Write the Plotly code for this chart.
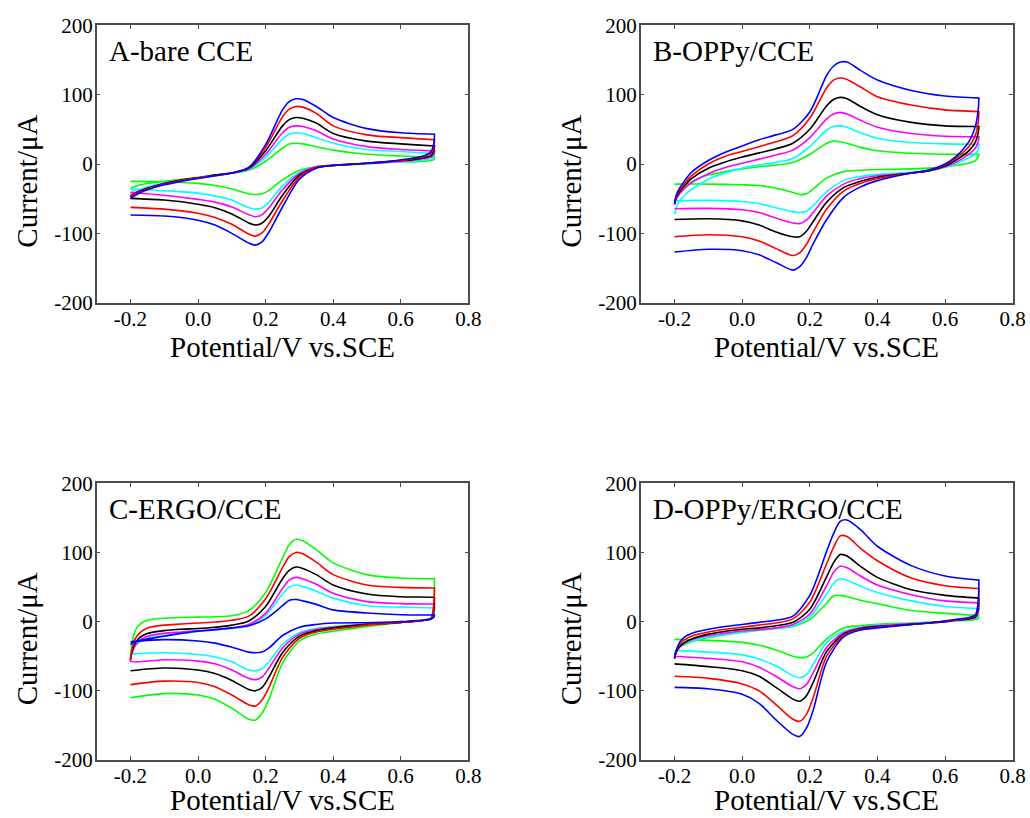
import plotly.graph_objects as go

# Potential grids (V vs SCE) for the anodic (forward) and cathodic (reverse) sweeps
E_FWD = [-0.2, -0.195, -0.185, -0.17, -0.15, -0.1, -0.05, 0.0, 0.05, 0.1, 0.15, 0.2,
         0.25, 0.27, 0.29, 0.31, 0.35, 0.4, 0.5, 0.6, 0.7]
E_REV = [0.7, 0.698, 0.69, 0.67, 0.63, 0.6, 0.55, 0.5, 0.4, 0.35, 0.3, 0.25, 0.21,
         0.19, 0.17, 0.15, 0.1, 0.05, 0.0, -0.1, -0.2]

COLORS = ["green", "cyan", "magenta", "black", "red", "blue"]
PANEL_LABELS = ["A-bare CCE", "B-OPPy/CCE", "C-ERGO/CCE", "D-OPPy/ERGO/CCE"]
X_TICKS = [-0.2, 0.0, 0.2, 0.4, 0.6, 0.8]
X_TICKTEXT = ["-0.2", "0.0", "0.2", "0.4", "0.6", "0.8"]
Y_TICKS = [-200, -100, 0, 100, 200]
Y_TICKTEXT = ["-200", "-100", "0", "100", "200"]
X_TITLE = "Potential/V vs.SCE"
Y_TITLE = "Current/μA"

# ---- Panel A: bare CCE (current, µA)
A_fwd_green = [-35, -34, -32, -30, -28, -25, -22, -19, -16, -13, -9, 4, 23, 29, 30, 29, 25, 20, 14, 11.5, 10]
A_fwd_cyan = [-42, -40, -38, -36, -33, -27, -23, -20, -16, -13, -8, 10, 36, 43, 45, 44, 38, 30, 21, 18, 15]
A_fwd_magenta = [-46, -44, -41, -38, -35, -28, -23, -20, -16, -13, -7, 14, 45, 53, 55, 54, 48, 36, 25, 21, 19]
A_fwd_black = [-47, -45, -42, -39, -35, -28, -23, -20, -16, -13, -6, 19, 55, 64, 67, 66, 59, 44, 33, 29, 26]
A_fwd_red = [-48, -46, -43, -40, -36, -29, -24, -20, -17, -13, -5, 24, 68, 79, 83, 82, 73, 55, 42, 38, 35]
A_fwd_blue = [-50, -48, -45, -41, -37, -30, -25, -21, -17, -13, -5, 28, 78, 90, 94, 93, 83, 67, 51, 45, 43]
A_rev_green = [10, 7, 5, 4, 3, 3, 2, 0, -2, -4, -9, -23, -38, -43, -44, -43, -36, -31, -28, -25.5, -25]
A_rev_cyan = [15, 11, 7, 6, 4, 3, 2, 1, -2, -4, -12, -32, -55, -63, -65, -63, -52, -46, -42, -38.5, -36]
A_rev_magenta = [19, 14, 10, 8, 5, 4, 2, 1, -2, -4, -14, -37, -63, -73, -76, -73, -62, -55, -51, -45, -41]
A_rev_black = [26, 19, 12, 9, 6, 5, 3, 1, -2, -5, -16, -45, -75, -85, -88, -85, -72, -63, -58, -52, -49.5]
A_rev_red = [35, 25, 16, 11, 7, 5, 3, 1, -2, -5, -19, -53, -86, -99, -104, -101, -87, -77, -71, -65, -62.5]
A_rev_blue = [43, 30, 18, 12, 8, 6, 3, 1, -2, -6, -22, -62, -98, -112, -117, -114, -100, -88, -81, -75, -73.5]

# ---- Panel B: OPPy/CCE
B_fwd_green = [-57, -50, -43, -35, -26, -16, -11, -7, -4, -1.4, 2, 14, 30, 33, 32, 30, 24, 19, 15.4, 14, 14]
B_fwd_cyan = [-73, -63, -53, -45, -37, -22, -13, -6, -1.4, 2.4, 8, 25, 49, 54, 55, 53, 45, 37, 31, 29, 28.4]
B_fwd_magenta = [-59, -51, -43, -35, -27, -14, -5, 1, 7, 13, 20, 38, 65, 72, 74.5, 72, 63, 53, 44, 40, 39.4]
B_fwd_black = [-57, -48, -40, -31, -21, -6, 3, 10, 16, 22, 30, 50, 84, 93, 96, 94, 83, 71, 60, 55, 54]
B_fwd_red = [-57, -47, -38, -28, -17, 0, 11, 18, 25, 32, 41, 66, 110, 121, 124, 122, 111, 97, 85, 78, 75.5]
B_fwd_blue = [-57, -45, -35, -24, -12, 5, 17, 26, 35, 42, 50, 75, 128, 141, 147, 147, 135, 121, 106, 98, 95]
B_rev_green = [14, 10, 5, 1, -2, -4, -6, -7, -8, -9, -11, -20, -36, -43, -44, -41, -35, -31, -30, -29, -29]
B_rev_cyan = [28.4, 22, 15, 9, 0, -5, -10, -12, -15, -18, -24, -40, -60, -68, -70, -69, -63, -57, -54, -52.5, -53]
B_rev_magenta = [39.4, 32, 23, 14, 2, -4, -10, -13, -17, -21, -29, -46, -70, -81, -86, -85, -78, -70, -66, -64, -64.5]
B_rev_black = [54, 45, 32, 19, 5, -3, -10, -13, -19, -25, -34, -55, -83, -97, -105, -105, -98, -88, -82, -79, -80]
B_rev_red = [75.5, 60, 42, 25, 8, -1, -9, -13, -21, -28, -39, -65, -98, -116, -128, -132, -122, -111, -105, -102, -105]
B_rev_blue = [95, 78, 55, 32, 10, 0, -9, -13, -24, -33, -48, -80, -115, -135, -148, -153, -142, -131, -125, -123, -127]

# ---- Panel C: ERGO/CCE
C_fwd_green = [-52, -30, -12, -3, 2, 5, 6, 6.5, 7, 8.5, 16, 42, 92, 111, 119, 117, 104, 85, 68, 63, 62]
C_fwd_cyan = [-50, -42, -34, -28, -24, -20, -17, -14, -12, -10, -6, 9, 40, 50, 53, 51, 44, 34, 23, 21, 19.7]
C_fwd_magenta = [-57, -45, -34, -26, -21, -17, -15, -13, -11.5, -9, -4, 12, 48, 60, 64, 62, 54, 41, 29, 26, 25.5]
C_fwd_black = [-55, -42, -30, -22, -17, -13, -11, -10, -8, -5, 1, 22, 62, 74, 79, 77, 68, 53, 40, 36, 35]
C_fwd_red = [-56, -38, -24, -15, -9, -5, -3.5, -2, -0.5, 2, 8, 33, 78, 94, 100, 98, 86, 68, 53, 49.5, 48.6]
C_fwd_blue = [-33, -31, -29, -27, -25, -21, -17, -14, -11.5, -9, -6, 4, 23, 31, 32, 30, 25, 17, 12.5, 10, 9.6]
C_rev_green = [62, 30, 6, 2, 0, -1, -4, -7, -14, -18, -28, -60, -112, -132, -142, -141, -125, -112, -106, -104, -110]
C_rev_cyan = [19.7, 10, 4, 2, 0, -1, -2, -3, -7, -10, -16, -33, -58, -68, -71, -70, -58, -51, -47.5, -45, -46.6]
C_rev_magenta = [25.5, 13, 4, 2, 0, -1, -2, -4, -8, -11, -18, -38, -67, -80, -84, -82, -70, -61, -57, -55, -57]
C_rev_black = [34.6, 18, 4, 2, 0, -1, -3, -4, -9, -13, -21, -45, -80, -95, -100, -98, -85, -75, -70, -67, -71]
C_rev_red = [48.6, 25, 5, 2, 0, -1, -3, -5, -11, -15, -24, -52, -95, -113, -122, -120, -106, -94, -88, -86, -91]
C_rev_blue = [9.6, 6, 4, 2.5, 1, 0, -1, -1.5, -2, -4, -8, -20, -38, -44, -45, -44, -37, -31, -28, -26, -29]

# ---- Panel D: OPPy/ERGO/CCE
D_fwd_green = [-48, -42, -37, -33, -29, -23, -19, -15.5, -12.5, -10, -7, 3, 27, 37, 38, 36, 31, 26, 16, 12, 9]
D_fwd_cyan = [-50, -43, -37, -32, -28, -22, -18, -15, -12, -10, -6, 7, 40, 55, 62, 60, 51, 42, 30, 22, 19]
D_fwd_magenta = [-52, -44, -37, -31, -26, -20, -16.5, -13.5, -11.5, -9, -4, 11, 52, 71, 80, 78, 66, 53, 39, 30, 27]
D_fwd_black = [-52, -44, -36, -30, -25, -18, -14, -11, -9, -6, -1, 18, 65, 85, 97, 95, 80, 64, 46, 38, 34]
D_fwd_red = [-52, -42, -33, -26, -21, -15, -11, -8, -5, -2, 4, 28, 84, 107, 124, 123, 106, 88, 63, 52, 48]
D_fwd_blue = [-54, -42, -30, -22, -17, -11, -7, -4, -1, 2, 8, 38, 102, 127, 145, 147, 133, 109, 81, 66, 60]
D_rev_green = [9, 5, 3, 2, 1, 0, -1, -2, -4, -6, -9, -25, -45, -51, -52, -50, -41, -34, -30, -27, -25.6]
D_rev_cyan = [19, 10, 5, 3, 1, 0, -1, -3, -5, -8, -14, -30, -62, -77, -81, -78, -64, -54, -48, -44, -41.5]
D_rev_magenta = [27, 14, 6, 4, 2, 0, -2, -3, -6, -9, -16, -37, -74, -91, -97, -94, -79, -66, -58, -53, -50]
D_rev_black = [34, 18, 7, 4, 2, 0, -2, -4, -7, -10, -18, -43, -88, -107, -115, -112, -95, -79, -71, -65, -61]
D_rev_red = [48, 25, 9, 5, 2, 1, -2, -4, -8, -11, -20, -50, -110, -134, -144, -141, -120, -100, -90, -82, -79]
D_rev_blue = [60, 30, 10, 6, 3, 1, -2, -4, -9, -12, -22, -58, -128, -154, -166, -163, -142, -118, -105, -97, -95]

PANELS = {
    "A": ([A_fwd_green, A_fwd_cyan, A_fwd_magenta, A_fwd_black, A_fwd_red, A_fwd_blue],
          [A_rev_green, A_rev_cyan, A_rev_magenta, A_rev_black, A_rev_red, A_rev_blue]),
    "B": ([B_fwd_green, B_fwd_cyan, B_fwd_magenta, B_fwd_black, B_fwd_red, B_fwd_blue],
          [B_rev_green, B_rev_cyan, B_rev_magenta, B_rev_black, B_rev_red, B_rev_blue]),
    "C": ([C_fwd_green, C_fwd_cyan, C_fwd_magenta, C_fwd_black, C_fwd_red, C_fwd_blue],
          [C_rev_green, C_rev_cyan, C_rev_magenta, C_rev_black, C_rev_red, C_rev_blue]),
    "D": ([D_fwd_green, D_fwd_cyan, D_fwd_magenta, D_fwd_black, D_fwd_red, D_fwd_blue],
          [D_rev_green, D_rev_cyan, D_rev_magenta, D_rev_black, D_rev_red, D_rev_blue]),
}

W, H = 1030, 818
SERIF = "Liberation Serif"
LINE_COLOR_MAP = {"green": "#00ff00", "cyan": "#00ffff", "magenta": "#ff00ff",
                  "black": "#000000", "red": "#ff0000", "blue": "#0000ff"}

# plot-area pixel boxes (left, right, top, bottom)
BOXES = {
    "A": (96.7, 468.3, 25.3, 302.7),
    "B": (640.7, 1012.7, 25.3, 302.7),
    "C": (96.7, 468.3, 483.3, 760.0),
    "D": (640.7, 1012.7, 483.3, 760.0),
}

fig = go.Figure()
for i, key in enumerate(["A", "B", "C", "D"]):
    n = "" if i == 0 else str(i + 1)
    fwds, revs = PANELS[key]
    for c, fy, ry in zip(COLORS, fwds, revs):
        fig.add_trace(go.Scatter(x=E_FWD + E_REV, y=fy + ry, mode="lines",
                                 line=dict(color=LINE_COLOR_MAP[c], width=1.6,
                                           shape="spline", smoothing=0.8),
                                 xaxis="x" + n, yaxis="y" + n, hoverinfo="skip"))

fig.update_layout(width=W, height=H,
                  margin=dict(l=0, r=0, t=0, b=0, pad=0, autoexpand=False),
                  paper_bgcolor="white", plot_bgcolor="white", showlegend=False)

for i, key in enumerate(["A", "B", "C", "D"]):
    n = "" if i == 0 else str(i + 1)
    l, r, t, b = BOXES[key]
    common = dict(showline=True, linecolor="#4d4d4d", linewidth=1.5, mirror="ticks",
                  ticks="inside", ticklen=4, tickwidth=1, tickcolor="#4d4d4d",
                  showgrid=False, zeroline=False, automargin=False,
                  tickfont=dict(family=SERIF, size=21, color="black"))
    fig.update_layout({
        "xaxis" + n: dict(common, domain=[l / W, r / W], range=[-0.3, 0.8],
                          tickvals=X_TICKS, ticktext=X_TICKTEXT, anchor="y" + n,
                          ticklabelstandoff=-4),
        "yaxis" + n: dict(common, domain=[1 - b / H, 1 - t / H], range=[-200, 200],
                          tickvals=Y_TICKS, ticktext=Y_TICKTEXT, anchor="x" + n,
                          ticklabelstandoff=-2),
    })
    fig.add_annotation(x=(l + 10.5) / W, y=1 - (t + 26) / H, xref="paper", yref="paper",
                       text=PANEL_LABELS[i], showarrow=False, xanchor="left", yanchor="middle",
                       font=dict(family=SERIF, size=29, color="black"))
    if b > 500:
        # bottom row: keep the title box inside the page
        fig.add_annotation(x=((l + r) / 2) / W, y=0.0, xref="paper", yref="paper",
                           text=X_TITLE, showarrow=False, xanchor="center", yanchor="bottom",
                           font=dict(family=SERIF, size=29, color="black"))
    else:
        fig.add_annotation(x=((l + r) / 2) / W, y=1 - (b + 44) / H, xref="paper", yref="paper",
                           text=X_TITLE, showarrow=False, xanchor="center", yanchor="middle",
                           font=dict(family=SERIF, size=29, color="black"))
    fig.add_annotation(x=(l - 70) / W, y=1 - ((t + b) / 2 + 17) / H, xref="paper", yref="paper",
                       text=Y_TITLE, showarrow=False, textangle=-90, xanchor="center",
                       yanchor="middle", font=dict(family=SERIF, size=29, color="black"))

fig.write_html("out.html")
